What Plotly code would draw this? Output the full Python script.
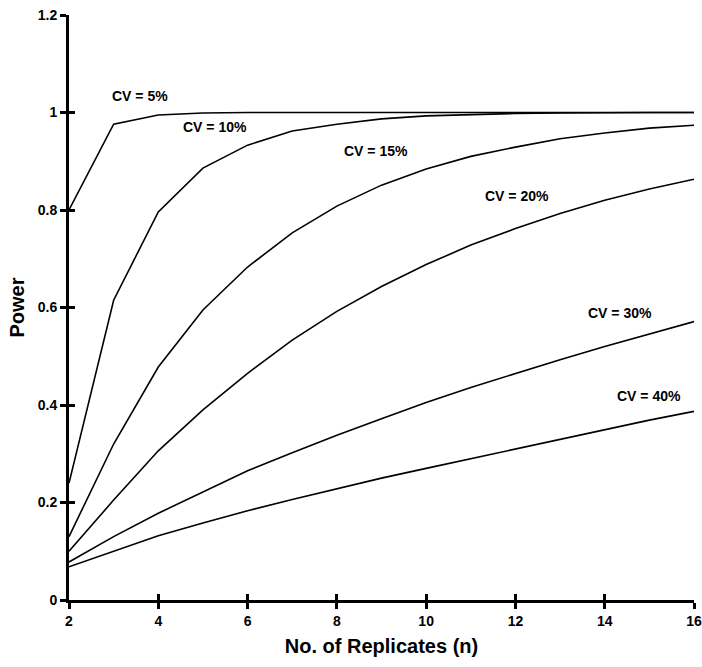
import plotly.graph_objects as go

n = list(range(2, 17))
cv5 = [0.80, 0.976, 0.995, 0.999, 1.0, 1.0, 1.0, 1.0, 1.0, 1.0, 1.0, 1.0, 1.0, 1.0, 1.0]
cv10 = [0.24, 0.615, 0.796, 0.886, 0.933, 0.962, 0.976, 0.987, 0.993, 0.996, 0.998, 0.999, 1.0, 1.0, 1.0]
cv15 = [0.13, 0.32, 0.478, 0.595, 0.683, 0.753, 0.808, 0.851, 0.884, 0.91, 0.929, 0.946, 0.958, 0.968, 0.974]
cv20 = [0.10, 0.205, 0.306, 0.39, 0.465, 0.533, 0.592, 0.643, 0.688, 0.728, 0.762, 0.793, 0.82, 0.843, 0.863]
cv30 = [0.078, 0.13, 0.178, 0.222, 0.265, 0.302, 0.338, 0.372, 0.405, 0.436, 0.465, 0.493, 0.52, 0.546, 0.571]
cv40 = [0.068, 0.10, 0.132, 0.158, 0.183, 0.206, 0.228, 0.25, 0.27, 0.29, 0.31, 0.33, 0.35, 0.369, 0.387]

series = [cv5, cv10, cv15, cv20, cv30, cv40]
labels = ["CV = 5%", "CV = 10%", "CV = 15%", "CV = 20%", "CV = 30%", "CV = 40%"]
label_x = [3.59, 5.27, 8.88, 12.04, 14.34, 14.99]
label_y = [1.034, 0.970, 0.921, 0.829, 0.589, 0.418]

x_ticks = [2, 4, 6, 8, 10, 12, 14, 16]
y_ticks = [0, 0.2, 0.4, 0.6, 0.8, 1.0, 1.2]
y_ticktext = ["0", "0.2", "0.4", "0.6", "0.8", "1", "1.2"]

font_family = "Liberation Sans, Arial, sans-serif"

fig = go.Figure()
for s in series:
    fig.add_trace(go.Scatter(x=n, y=s, mode="lines",
                             line=dict(color="black", width=1.6),
                             showlegend=False, hoverinfo="skip", cliponaxis=False))

for t, lx, ly in zip(labels, label_x, label_y):
    fig.add_annotation(x=lx, y=ly, text="<b>" + t + "</b>", showarrow=False,
                       font=dict(family=font_family, size=14, color="black"))

axis_common = dict(showgrid=False, zeroline=False, showline=True,
                   linecolor="black", linewidth=3, ticks="outside",
                   ticklen=6, tickwidth=2.5, tickcolor="black",
                   automargin=False)

fig.update_layout(
    width=702, height=667,
    margin=dict(l=69, r=8, t=15, b=67),
    paper_bgcolor="white", plot_bgcolor="white",
    font=dict(family=font_family, color="black"),
    xaxis=dict(range=[2, 16], tickvals=x_ticks,
               ticktext=["<b>%d</b>" % v for v in x_ticks],
               tickfont=dict(size=14, family=font_family),
               title=dict(text="<b>No. of Replicates (n)</b>",
                          font=dict(size=20, family=font_family), standoff=12),
               **axis_common),
    yaxis=dict(range=[0, 1.2], tickvals=y_ticks,
               ticktext=["<b>%s</b>" % v for v in y_ticktext],
               tickfont=dict(size=14, family=font_family),
               title=dict(text="<b>Power</b>",
                          font=dict(size=20, family=font_family), standoff=8),
               **axis_common),
    xaxis2=dict(range=[2, 16], overlaying="x", tickvals=x_ticks,
                showticklabels=False, showgrid=False, zeroline=False,
                showline=False, ticks="inside", ticklen=6, tickwidth=2.5,
                tickcolor="black", side="bottom"),
    yaxis2=dict(range=[0, 1.2], overlaying="y", tickvals=y_ticks,
                showticklabels=False, showgrid=False, zeroline=False,
                showline=False, ticks="inside", ticklen=6, tickwidth=2.5,
                tickcolor="black", side="left"),
)
fig.add_trace(go.Scatter(x=[2], y=[0], xaxis="x2", yaxis="y2", mode="markers",
                         marker=dict(opacity=0), showlegend=False, hoverinfo="skip"))

fig.write_html("out.html", config={"displayModeBar": False},
               post_script="document.body.style.margin='0';document.body.style.overflow='hidden';")
